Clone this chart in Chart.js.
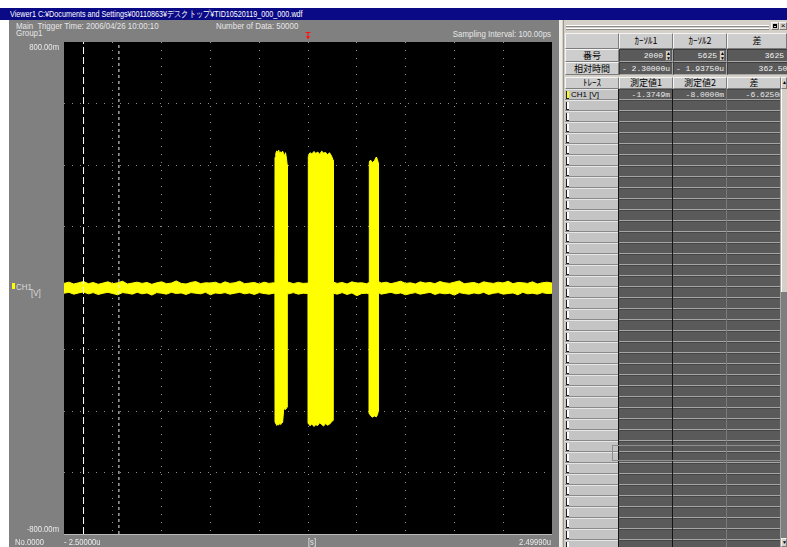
<!DOCTYPE html>
<html lang="ja">
<head>
<meta charset="utf-8">
<title>Viewer1</title>
<script src="https://cdn.jsdelivr.net/npm/chart.js@4.4.1/dist/chart.umd.min.js"></script>
<style>
  html, body { margin: 0; padding: 0; }
  body { width: 787px; height: 547px; position: relative; overflow: hidden; background: #ffffff;
         font-family: "Liberation Sans", Arial, sans-serif; }
  .abs { position: absolute; white-space: pre; box-sizing: border-box; overflow: hidden; }
  .ui { font-size: 9px; line-height: 10px; color: #e6e6e6; transform: scaleX(0.88); transform-origin: left top; overflow: visible; }
  .ui.r { transform-origin: right top; }
  .ui.t { transform: scaleX(0.8); }
  .jp { font-family: "Noto Sans CJK JP", sans-serif; font-size: 9px; color: #000; text-align: center; }
  .mono { font-family: "Liberation Mono", "DejaVu Sans Mono", monospace; font-size: 8px; color: #f2f2f2; text-align: right; }
  canvas.abs { box-sizing: content-box; }
</style>
</head>
<body>
<script>
// ---- acquisition header ----
const windowTitle = 'Viewer1 C:¥Documents and Settings¥00110863¥デスクトップ¥TID10520119_000_000.wdf';
const triggerText = 'Main  Trigger Time: 2006/04/26 10:00:10';
const groupText = 'Group1';
const dataCountText = 'Number of Data: 50000';
const samplingText = 'Sampling Interval: 100.00ps';

// ---- axes ----
const timeGridUs = [-2.5, -2.0, -1.5, -1.0, -0.5, 0, 0.5, 1.0, 1.5, 2.0, 2.4999];
const timeEndLabels = ['- 2.50000u', '2.49990u'];
const timeUnitLabel = '[s]';
const sampleStartLabel = 'No.0000';
const voltEndLabels = ['800.00m', '-800.00m'];
const triggerTimeUs = 0;

// ---- CH1 envelope: time (us), max and min (mV) ----
const timeUs = [
  -2.50,-2.45,-2.40,-2.35,-2.30,-2.25,-2.20,-2.15,-2.10,-2.05,
  -2.00,-1.95,-1.90,-1.85,-1.80,-1.75,-1.70,-1.65,-1.60,-1.55,
  -1.50,-1.45,-1.40,-1.35,-1.30,-1.25,-1.20,-1.15,-1.10,-1.05,
  -1.00,-0.95,-0.90,-0.85,-0.80,-0.75,-0.70,-0.65,-0.60,-0.55,
  -0.50,-0.45,-0.40,-0.35,
  -0.339,-0.338,-0.33,-0.32,-0.31,-0.30,-0.29,-0.28,-0.27,-0.26,-0.25,-0.24,-0.23,-0.22,-0.213,-0.212,
  -0.20,-0.15,-0.10,-0.05,0.002,
  0.003,0.02,0.04,0.06,0.08,0.10,0.12,0.14,0.16,0.18,0.20,0.22,0.24,0.258,
  0.259,0.30,0.35,0.40,0.45,0.50,0.55,0.60,0.627,
  0.628,0.64,0.66,0.68,0.70,0.712,0.721,
  0.722,0.75,0.80,0.85,0.90,0.95,1.00,1.05,1.10,1.15,
  1.20,1.25,1.30,1.35,1.40,1.45,1.50,1.55,1.60,1.65,
  1.70,1.75,1.80,1.85,1.90,1.95,2.00,2.05,2.10,2.15,
  2.20,2.25,2.30,2.35,2.40,2.45,2.4999
];
const upperMv = [
  15,19,13,17,21,14,18,12,16,20,
  14,17,22,13,16,19,15,18,12,17,
  20,14,16,23,15,13,18,21,14,17,
  16,19,13,20,15,17,22,14,16,18,
  13,19,15,17,
  16,425,438,446,441,448,436,443,439,445,437,430,440,420,400,18,
  19,14,18,15,16,
  428,440,436,444,438,442,435,445,439,441,433,440,430,415,
  19,15,18,13,20,16,17,14,18,
  410,416,408,414,426,418,405,
  21,16,19,14,18,22,15,17,13,20,
  16,18,14,21,17,15,19,23,14,16,
  18,13,20,17,15,19,16,22,14,18,
  17,15,20,13,17,19,16
];
const lowerMv = [
  -17,-14,-20,-16,-13,-19,-15,-21,-17,-14,
  -18,-22,-15,-17,-20,-14,-19,-16,-23,-15,
  -17,-20,-14,-18,-16,-21,-15,-17,-19,-14,
  -22,-16,-18,-15,-20,-17,-14,-19,-16,-21,
  -15,-18,-20,-17,
  -18,-435,-440,-447,-442,-446,-438,-444,-440,-437,-398,-392,-395,-390,-388,-16,
  -19,-15,-20,-17,-18,
  -440,-448,-442,-450,-445,-447,-438,-444,-449,-441,-446,-443,-436,-430,
  -17,-20,-15,-21,-16,-25,-18,-17,-19,
  -408,-415,-420,-416,-419,-412,-400,
  -15,-20,-17,-14,-19,-16,-22,-18,-15,-20,
  -17,-14,-21,-16,-19,-17,-23,-15,-18,-20,
  -16,-19,-14,-21,-17,-15,-20,-18,-16,-22,
  -14,-19,-17,-20,-15,-18,-17
];

// ---- cursors ----
const startTimeUs = -2.5;
const sampleIntervalUs = 0.0001;
const cursorSamples = [2000, 5625];
const cursorTimesUs = cursorSamples.map(n => startTimeUs + n * sampleIntervalUs);

// ---- cursor table ----
const cursorHeaders = ['ｶｰｿﾙ1', 'ｶｰｿﾙ2', '差'];
const rowHeaders = ['番号', '相対時間'];
const sampleValues = ['2000', '5625', '3625'];
const timeValues = ['- 2.30000u', '- 1.93750u', '362.500u'];
const traceHeaders = ['ﾄﾚｰｽ', '測定値1', '測定値2', '差'];
const traceName = 'CH1 [V]';
const traceValues = ['-1.3749m', '-8.0000m', '-6.6250m'];
const emptyTraceRows = 41;

// ---------------------------------------------------------------
function el(x, y, w, h, cls, css, text) {
  const d = document.createElement('div');
  d.className = 'abs ' + (cls || '');
  d.style.left = x + 'px';
  d.style.top = y + 'px';
  if (w != null) d.style.width = w + 'px';
  if (h != null) d.style.height = h + 'px';
  if (css) d.style.cssText += css;
  if (text != null) d.textContent = text;
  document.body.appendChild(d);
  return d;
}

// window frame
el(0, 8, 787, 12, '', 'background:#0a0a86;');
el(10, 9, 600, 11, 'ui t', 'color:#ffffff;line-height:11px;', windowTitle);
el(9, 20, 550, 527, '', 'background:#808080;');
el(16, 21, 220, 10, 'ui', '', triggerText);
el(16, 28, 100, 10, 'ui', '', groupText);
el(216, 21, 150, 10, 'ui', '', dataCountText);
el(400, 29, 151, 10, 'ui r', 'text-align:right;', samplingText);

// channel tag
el(12, 283, 3, 6, '', 'background:#ffff00;');
el(16, 282, 30, 10, 'ui', 'color:#dcdcdc;', 'CH1');
el(31, 288, 30, 10, 'ui', 'color:#dcdcdc;', '[V]');

// scope canvas
const cv = document.createElement('canvas');
cv.className = 'abs';
cv.width = 546; cv.height = 527;
cv.style.left = '9px'; cv.style.top = '20px';
document.body.appendChild(cv);

// ---- cursor table panel ----
const raised = 'background:#cdcdcd;border-top:1px solid #f4f4f4;border-left:1px solid #f4f4f4;border-bottom:1px solid #7c7c7c;border-right:1px solid #7c7c7c;';
const sunken = 'background:#5a5a5a;border-top:1px solid #3c3c3c;border-left:1px solid #3c3c3c;border-bottom:1px solid #a8a8a8;border-right:1px solid #a8a8a8;';
el(559, 20, 228, 527, '', 'background:#d4d0c8;');
el(559, 20, 3, 527, '', 'background:#eeede6;');
el(563, 20, 1, 527, '', 'background:#9a9890;');
// grip lines
el(566, 25, 203, 1, '', 'background:#ffffff;');
el(566, 26, 203, 1, '', 'background:#8a8a8a;');
el(566, 28, 203, 1, '', 'background:#ffffff;');
el(566, 29, 203, 1, '', 'background:#8a8a8a;');
el(771, 22, 8, 8, '', raised + 'background:#d4d0c8;');
el(773, 24, 4, 4, '', 'border:1px solid #000;border-top-width:2px;');
el(779, 22, 8, 8, '', raised + 'background:#d4d0c8;font-size:8px;line-height:6px;text-align:center;color:#000;', '×');

const colX = [565, 619, 673, 727];
const colW = [54, 54, 54, 60];

// header row: cursor names
el(colX[0], 33, colW[0], 16, 'jp', raised);
cursorHeaders.forEach((t, i) => el(colX[i + 1], 33, colW[i + 1], 16, 'jp', raised + 'line-height:14px;', t));
// sample number row
el(colX[0], 49, colW[0], 13, 'jp', raised + 'line-height:11px;', rowHeaders[0]);
sampleValues.forEach((t, i) => {
  const w = i === 2 ? 73 : colW[i + 1];
  el(colX[i + 1], 49, w, 13, 'mono', sunken + 'line-height:11px;padding-right:' + (i === 2 ? 15 : 9) + 'px;', t);
  if (i < 2) {
    const sx = colX[i + 1] + colW[i + 1] - 8;
    el(sx, 50, 6, 11, '', 'background:#d4d0c8;border:1px solid #6a6a6a;');
    el(sx + 1, 51, 4, 4, '', 'font-size:5px;line-height:4px;color:#000;text-align:center;', '▲');
    el(sx + 1, 56, 4, 4, '', 'font-size:5px;line-height:4px;color:#000;text-align:center;', '▼');
  }
});
// relative time row
el(colX[0], 62, colW[0], 13, 'jp', raised + 'line-height:11px;', rowHeaders[1]);
timeValues.forEach((t, i) => {
  const w = i === 2 ? 73 : colW[i + 1];
  el(colX[i + 1], 62, w, 13, 'mono', sunken + 'line-height:11px;padding-right:2px;', t);
});
// trace header row
traceHeaders.forEach((t, i) => el(colX[i], 77, i === 3 ? 54 : colW[i], 12, 'jp', raised + 'line-height:10px;', t));

// trace rows
el(565, 89, 216, 458, '', 'background:#5a5a5a;');
const rowCount = emptyTraceRows + 1;
for (let r = 0; r < rowCount; r++) {
  const y = 89 + r * 11;
  el(565, y, 53, 11, '', 'background:#c4c4c4;border-top:1px solid #e6e6e6;border-bottom:1px solid #8a8a8a;');
  el(566, y + 2, 3, 8, '', 'border-left:1px solid #1e1e1e;border-bottom:1px solid #1e1e1e;background:' + (r === 0 ? '#ffff00' : '#ffffff') + ';');
  el(619, y + 10, 162, 1, '', 'background:#a6a6a6;');
  el(619, y, 162, 1, '', 'background:#464646;');
}
el(571, 89, 46, 11, '', 'font-size:8px;line-height:11px;color:#000;', traceName);
traceValues.forEach((t, i) => el(colX[i + 1], 89, colW[i + 1] - 1, 11, 'mono', 'line-height:11px;padding-right:2px;color:#e8e8e8;', t));
el(618, 89, 1, 458, '', 'background:#151515;');
el(672, 89, 1, 458, '', 'background:#151515;');
el(726, 89, 1, 458, '', 'background:#7a7a7a;');
el(780, 89, 1, 458, '', 'background:#a4a4a4;');
// focus frame
el(612, 445, 180, 16, '', 'border:1px solid #8e8e8e;');
// scrollbar
el(781, 77, 6, 12, '', raised + 'background:#d4d0c8;font-size:5px;line-height:8px;color:#000;text-align:center;', '▲');
el(781, 89, 6, 203, '', 'background:#d4d0c8;border-left:1px solid #ffffff;');
el(781, 292, 6, 246, '', 'background:#7e7e7e;');
el(781, 538, 6, 9, '', raised + 'background:#d4d0c8;font-size:5px;line-height:6px;color:#000;text-align:center;', '▼');

// ---------------------------------------------------------------
// scope drawing
const labelScale = 0.85;
function narrowText(ctx, text, x, y, align) {
  const w = ctx.measureText(text).width * labelScale;
  const left = align === 'left' ? x : align === 'right' ? x - w : x - w / 2;
  ctx.save();
  ctx.translate(left, y);
  ctx.scale(labelScale, 1);
  ctx.textAlign = 'left';
  ctx.fillText(text, 0, 0);
  ctx.restore();
}

const scopeDecor = {
  id: 'scopeDecor',
  beforeDraw(chart) {
    const { ctx, chartArea: a } = chart;
    ctx.save();
    ctx.fillStyle = '#000000';
    ctx.fillRect(a.left, a.top, a.right - a.left, a.bottom - a.top);
    ctx.restore();
  },
  afterDraw(chart) {
    const { ctx, chartArea: a, scales: { x, y } } = chart;
    ctx.save();
    ctx.fillStyle = '#b8b8b8';
    ctx.fillRect(a.left, a.bottom, a.right - a.left, 1);

    ctx.font = '9px "Liberation Sans", Arial, sans-serif';
    ctx.fillStyle = '#ececec';
    ctx.textBaseline = 'top';
    narrowText(ctx, voltEndLabels[0], a.left - 5, y.getPixelForValue(y.max) + 1, 'right');
    ctx.textBaseline = 'bottom';
    narrowText(ctx, voltEndLabels[1], a.left - 5, y.getPixelForValue(y.min), 'right');

    const ly = a.bottom + 4;
    ctx.textBaseline = 'top';
    narrowText(ctx, timeEndLabels[0], x.getPixelForValue(x.min), ly, 'left');
    narrowText(ctx, sampleStartLabel, 6, ly, 'left');
    narrowText(ctx, timeEndLabels[1], x.getPixelForValue(x.max) - 1, ly, 'right');
    narrowText(ctx, timeUnitLabel, (a.left + a.right) / 2 + 4, ly, 'center');

    // trigger position marker
    const tx = Math.round(x.getPixelForValue(triggerTimeUs)) - 0.5;
    ctx.strokeStyle = '#ff1010';
    ctx.fillStyle = '#ff1010';
    ctx.lineWidth = 1;
    ctx.beginPath();
    ctx.moveTo(tx - 2, 12.5); ctx.lineTo(tx + 3, 12.5);
    ctx.moveTo(tx + 0.5, 12); ctx.lineTo(tx + 0.5, 18);
    ctx.stroke();
    ctx.beginPath();
    ctx.moveTo(tx - 1.5, 16); ctx.lineTo(tx + 2.5, 16); ctx.lineTo(tx + 0.5, 19.5); ctx.closePath();
    ctx.fill();
    ctx.restore();
  }
};

const gridColor = c => (c.index === 0 || c.index === c.scale.ticks.length - 1) ? 'rgba(0,0,0,0)' : '#8c8c8c';

new Chart(cv, {
  type: 'line',
  data: {
    datasets: [
      {
        label: 'Cursor 1',
        data: [{ x: cursorTimesUs[0], y: -800 }, { x: cursorTimesUs[0], y: 800 }],
        borderColor: '#ffffff', borderWidth: 1, borderDash: [7, 3], pointRadius: 0, fill: false
      },
      {
        label: 'Cursor 2',
        data: [{ x: cursorTimesUs[1], y: -800 }, { x: cursorTimesUs[1], y: 800 }],
        borderColor: '#f0f0f0', borderWidth: 1, borderDash: [3, 3], pointRadius: 0, fill: false
      },
      {
        label: 'CH1 min',
        data: timeUs.map((t, i) => ({ x: t, y: lowerMv[i] })),
        borderColor: '#ffff00', borderWidth: 1, pointRadius: 0, fill: false, tension: 0
      },
      {
        label: 'CH1 max',
        data: timeUs.map((t, i) => ({ x: t, y: upperMv[i] })),
        borderColor: '#ffff00', backgroundColor: '#ffff00', borderWidth: 1, pointRadius: 0,
        fill: '-1', tension: 0
      }
    ]
  },
  options: {
    responsive: false,
    animation: false,
    devicePixelRatio: 1,
    events: [],
    layout: { padding: { left: 55, top: 22, right: 3, bottom: 13 } },
    plugins: { legend: { display: false }, tooltip: { enabled: false } },
    scales: {
      x: {
        type: 'linear', min: -2.5, max: 2.4999,
        afterBuildTicks: s => { s.ticks = timeGridUs.map(v => ({ value: v })); },
        ticks: { display: false },
        grid: { color: gridColor, drawTicks: false, lineWidth: 1 },
        border: { display: false, dash: [1, 7] }
      },
      y: {
        type: 'linear', min: -800, max: 800,
        ticks: { display: false, stepSize: 200 },
        grid: { color: gridColor, drawTicks: false, lineWidth: 1 },
        border: { display: false, dash: [1, 7] }
      }
    }
  },
  plugins: [scopeDecor]
});
</script>
</body>
</html>
